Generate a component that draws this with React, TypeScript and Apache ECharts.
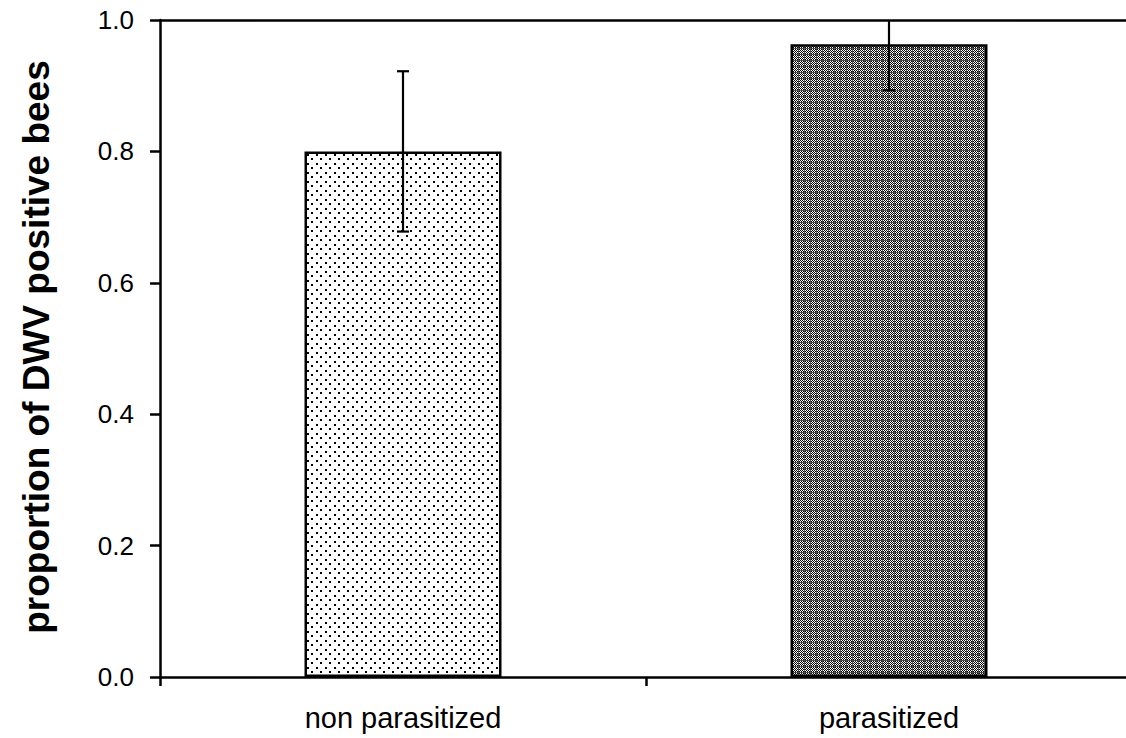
import React, { useEffect, useRef } from "react";
import * as echarts from "echarts";

const categories = ["non parasitized", "parasitized"];
const proportions = [0.8, 0.963];
const errors = [0.122, 0.07];
const yTitle = "proportion of DWV positive bees";

const FONT = "'Liberation Sans', Arial, sans-serif";

function makeDotPattern(): HTMLCanvasElement {
  const c = document.createElement("canvas");
  c.width = 9;
  c.height = 9;
  const ctx = c.getContext("2d")!;
  ctx.fillStyle = "#ffffff";
  ctx.fillRect(0, 0, 9, 9);
  ctx.fillStyle = "#000000";
  ctx.fillRect(1, 1, 2, 2);
  ctx.fillRect(5, 5, 2, 2);
  return c;
}

function makeCheckPattern(): HTMLCanvasElement {
  const c = document.createElement("canvas");
  c.width = 6;
  c.height = 6;
  const ctx = c.getContext("2d")!;
  for (let y = 0; y < 6; y++) {
    for (let x = 0; x < 6; x++) {
      let col = (x + y) % 2 === 0 ? "#000000" : "#ffffff";
      if (x === 0 || y === 0) col = "#505050";
      ctx.fillStyle = col;
      ctx.fillRect(x, y, 1, 1);
    }
  }
  return c;
}

export default function App() {
  const ref = useRef<HTMLDivElement>(null);

  useEffect(() => {
    if (!ref.current) return;
    const chart = echarts.init(ref.current, undefined, { renderer: "svg" });
    const patterns = [makeDotPattern(), makeCheckPattern()];

    const option: any = {
      animation: false,
      backgroundColor: "#ffffff",
      grid: { left: 160, top: 20, width: 972, bottom: 61, containLabel: false },
      xAxis: [
        {
          type: "category",
          data: categories,
          position: "bottom",
          axisLine: { show: true, lineStyle: { color: "#000", width: 2.5 } },
          axisTick: { show: true, length: 9, interval: 0, lineStyle: { color: "#000", width: 2.5 } },
          axisLabel: { color: "#000", fontSize: 29, fontFamily: FONT, margin: 26, interval: 0 },
          splitLine: { show: false },
        },
        {
          type: "category",
          data: categories,
          position: "top",
          axisLine: { show: true, onZero: false, lineStyle: { color: "#000", width: 2.5 } },
          axisTick: { show: false },
          axisLabel: { show: false },
          splitLine: { show: false },
        },
      ],
      yAxis: {
        type: "value",
        min: 0,
        max: 1,
        interval: 0.2,
        axisLine: { show: true, lineStyle: { color: "#000", width: 2.5 } },
        axisTick: { show: true, length: 10, lineStyle: { color: "#000", width: 2.5 } },
        axisLabel: {
          color: "#000",
          fontSize: 26,
          fontFamily: FONT,
          margin: 26,
          formatter: (v: number) => v.toFixed(1),
        },
        splitLine: { show: false },
      },
      graphic: [
        {
          type: "text",
          x: 36,
          y: 347,
          rotation: Math.PI / 2,
          style: {
            text: yTitle,
            font: `bold 37px ${FONT}`,
            fill: "#000",
            align: "center",
            verticalAlign: "middle",
          },
        },
      ],
      series: [
        {
          type: "bar",
          xAxisIndex: 0,
          barWidth: 197,
          data: proportions.map((v, i) => ({
            value: v,
            itemStyle: {
              color: { image: patterns[i], repeat: "repeat" },
              borderColor: "#000",
              borderWidth: 2.5,
            },
          })),
          z: 2,
        },
        {
          type: "custom",
          xAxisIndex: 0,
          clip: true,
          z: 5,
          data: categories.map((_, i) => [i, proportions[i], errors[i]]),
          encode: { x: 0, y: 1 },
          renderItem: (params: any, api: any) => {
            const idx = api.value(0);
            const m = api.value(1);
            const e = api.value(2);
            const top = api.coord([idx, m + e]);
            const bot = api.coord([idx, m - e]);
            const half = 6;
            const st = { stroke: "#000", lineWidth: 2.2 };
            return {
              type: "group",
              children: [
                { type: "line", shape: { x1: top[0], y1: top[1], x2: bot[0], y2: bot[1] }, style: st },
                { type: "line", shape: { x1: top[0] - half, y1: top[1], x2: top[0] + half, y2: top[1] }, style: st },
                { type: "line", shape: { x1: bot[0] - half, y1: bot[1], x2: bot[0] + half, y2: bot[1] }, style: st },
              ],
            };
          },
        },
      ],
    };

    chart.setOption(option);
    return () => chart.dispose();
  }, []);

  return (
    <div
      ref={ref}
      style={{ position: "fixed", left: 0, top: 0, width: 1140, height: 738, background: "#fff" }}
    />
  );
}
